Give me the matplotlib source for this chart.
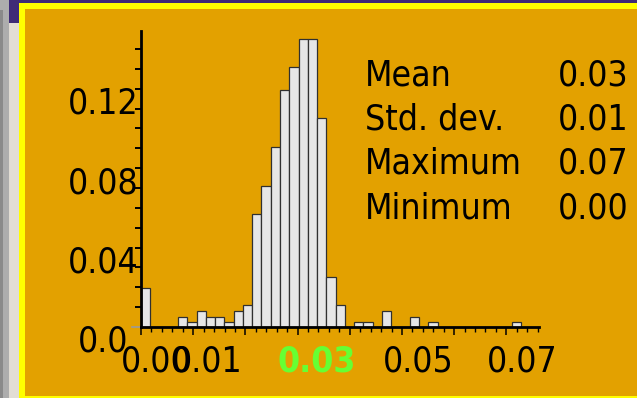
import numpy as np
import matplotlib
matplotlib.use('Agg')
import matplotlib.pyplot as plt
from matplotlib.patches import Rectangle
from matplotlib.transforms import offset_copy

# histogram: relative frequency per bin, 41 bins from 0 to ~0.0728
bin_heights = [0.0195, 0, 0, 0, 0.0052, 0.0027, 0.0082, 0.0052, 0.0052, 0.0027,
               0.0082, 0.0113, 0.0568, 0.0710, 0.0908, 0.1194, 0.1310, 0.1449,
               0.1449, 0.1051, 0.0253, 0.0113, 0, 0.0027, 0.0027, 0, 0.0082,
               0, 0, 0.0052, 0, 0.0027, 0, 0, 0, 0, 0, 0, 0, 0, 0.0027]
data_max = 0.0728

x_tick_labels = ['0.00', '0.01', '0.03', '0.05', '0.07']
x_tick_values = [0.00, 0.01, 0.03, 0.05, 0.07]
y_tick_labels = ['0.0', '0.04', '0.08', '0.12']
y_tick_values = [0.0, 0.04, 0.08, 0.12]

stat_names = ['Mean', 'Std. dev.', 'Maximum', 'Minimum']
stat_values = ['0.03', '0.01', '0.07', '0.00']

# how far (px) each x label sits right of its tick in the original
label_shift = [15.2, 13.5, 19.5, 16.0, 15.8]

ORANGE = '#E3A100'
W, H = 637, 398

plt.rcParams['font.family'] = 'DejaVu Sans'
plt.rcParams['font.stretch'] = 'condensed'

fig = plt.figure(figsize=(W / 100, H / 100), dpi=100, facecolor=ORANGE)


def box(x0, y0, x1, y1, color):
    # rectangle given in image pixels (top-left origin)
    fig.add_artist(Rectangle((x0 / W, 1 - y1 / H), (x1 - x0) / W, (y1 - y0) / H,
                             transform=fig.transFigure, color=color, lw=0, zorder=0))


# window frame around the panel
box(0, 0, 9, H, '#adadad')
box(0, 10, 3, H, '#8a8a8a')
box(9, 0, W, 3, '#3f2b77')
box(9, 0, 19, 23, '#3f2b77')
box(9, 23, 19, H, '#e2ddd4')
box(19, 3, W, H, '#ffff00')
box(25, 9, W, 396, ORANGE)

ax = fig.add_axes([141 / W, 71 / H, 398 / W, 296 / H])
ax.set_facecolor('none')

n = len(bin_heights)
width = data_max / n
lefts = np.arange(n) * width
ax.bar(lefts, bin_heights, width=width, align='edge', color='#e6e6e6',
       edgecolor='#303030', linewidth=0.9, zorder=2)

ax.set_xlim(0, 0.07625)
ax.set_ylim(0, 0.1491)
for s in ['top', 'right']:
    ax.spines[s].set_visible(False)
for s in ['left', 'bottom']:
    ax.spines[s].set_linewidth(2.0)
    ax.spines[s].set_zorder(3)

ax.set_xticks(np.arange(0, 0.0705, 0.01))
ax.set_xticks(np.arange(0, 0.0765, 0.002), minor=True)
ax.set_yticks(np.arange(0.01, 0.1405, 0.01))
ax.set_xticklabels([])
ax.set_yticklabels([])
ax.tick_params(axis='x', which='major', length=6, width=1.1, direction='out')
ax.tick_params(axis='x', which='minor', length=3.4, width=1.0, direction='out')
ax.tick_params(axis='y', length=4.3, width=1.4, direction='out')
ax.plot([-0.0017, 0], [0, 0], color='#9a9a9a', lw=1.2, clip_on=False, zorder=1)

fs = 25.5
for v, lab, dx in zip(x_tick_values, x_tick_labels, label_shift):
    mean_lab = lab == '0.03'  # the mean is highlighted
    tr = offset_copy(ax.transData, fig=fig, x=dx, y=-44.5, units='dots')
    ax.text(v, 0, lab, transform=tr, ha='center', va='baseline', fontsize=fs,
            color='#66ff33' if mean_lab else 'black',
            fontweight='bold' if mean_lab else 'normal', clip_on=False)

for v, lab in zip(y_tick_values, y_tick_labels):
    dx = -13 if lab == '0.0' else -2.5
    tr = offset_copy(ax.transData, fig=fig, x=dx, y=2, units='dots')
    ax.text(0, v, lab, transform=tr, ha='right', va='top',
            fontsize=fs, color='black', clip_on=False)

rows_y = [85, 129.5, 174, 218.5]
for yy, name, val in zip(rows_y, stat_names, stat_values):
    fig.text(365 / W, 1 - yy / H, name, fontsize=fs, va='baseline', ha='left')
    fig.text(558 / W, 1 - yy / H, val, fontsize=fs, va='baseline', ha='left')

fig.savefig('out.png', dpi=100, facecolor=fig.get_facecolor())
